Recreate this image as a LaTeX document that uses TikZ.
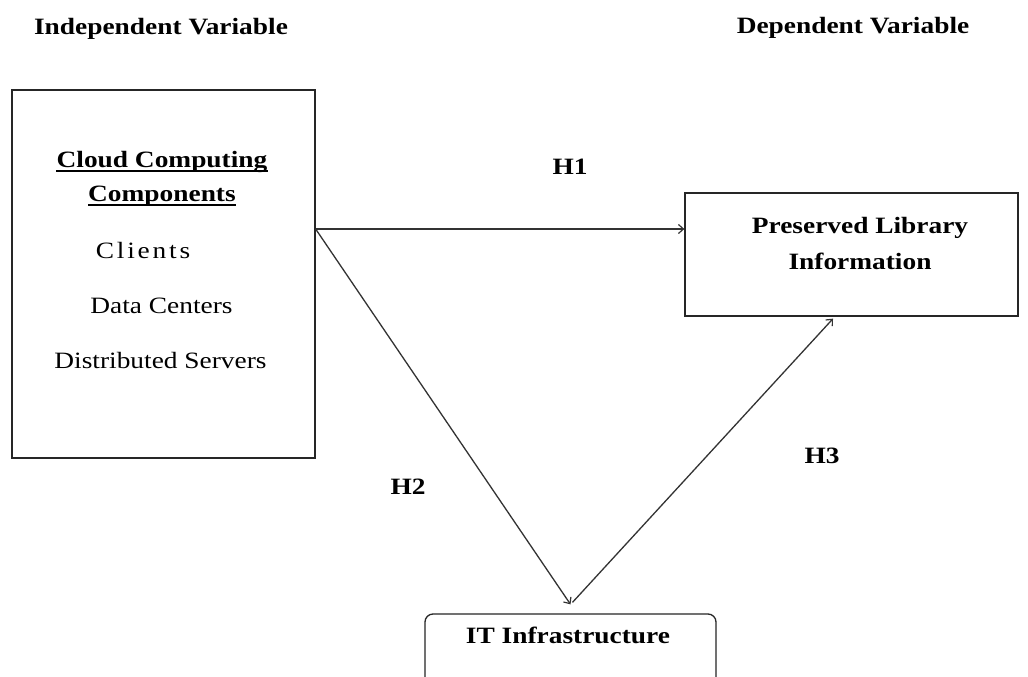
\documentclass[tikz,border=0pt]{standalone}
\usepackage{fontspec}
\setmainfont{Liberation Serif}[FakeStretch=1.17]
\usetikzlibrary{arrows.meta}
\begin{document}
\begin{tikzpicture}[x=1pt,y=-1pt,
  txt/.style={inner sep=0pt, anchor=base, font=\fontsize{23.4}{28}\selectfont},
  btxt/.style={inner sep=0pt, anchor=base, font=\fontsize{23.4}{28}\selectfont\bfseries},
  box/.style={draw=black!85, line width=1.3pt, inner sep=0pt, fill=none},
  uline/.style={draw=black, line width=1.5pt},
  arr/.style={draw=black!80, line width=1.3pt, -{Straight Barb[length=5pt,width=9pt,line width=1.2pt]}}]
\useasboundingbox[fill=white] (0,0) rectangle (1028,677);

% titles
\node[btxt] (indep) at (161,35) {Independent Variable};
\node[btxt] (dep) at (853,34) {Dependent Variable};

% boxes
\node[box, minimum width=303pt, minimum height=368pt] (ccc) at (163.5,274) {};
\node[box, minimum width=333pt, minimum height=123pt] (pli) at (851.5,254.5) {};
\node[box, rounded corners=8pt, minimum width=291pt, minimum height=80pt] (it) at (570.5,654) {};

% box texts
\node[btxt] (cc1) at (162,167) {Cloud Computing};
\node[btxt] (cc2) at (162,201) {Components};
\draw[uline] ([yshift=-4pt]cc1.base west) -- ([yshift=-4pt]cc1.base east);
\draw[uline] ([yshift=-4pt]cc2.base west) -- ([yshift=-4pt]cc2.base east);
\node[txt] (cl) at (143,258) {\addfontfeature{LetterSpace=12}Clients};
\node[txt] (dc) at (161.5,313) {Data Centers};
\node[txt] (ds) at (160.5,368) {Distributed Servers};

\node[btxt] (pl1) at (860,233) {Preserved Library};
\node[btxt] (pl2) at (860,269) {Information};

\node[btxt] (itl) at (568,643) {IT Infrastructure};

% hypothesis labels
\node[btxt] (h1) at (570,174) {H1};
\node[btxt] (h2) at (408,494) {H2};
\node[btxt] (h3) at (822,463) {H3};

% connectors
\draw[arr] ([yshift=45pt]ccc.east) -- ([yshift=25.5pt]pli.west);
\draw[arr] ([yshift=45pt]ccc.east) -- ([yshift=9pt]it.north);
\draw[arr] ([xshift=2pt,yshift=11pt]it.north) -- ([xshift=-18.5pt,yshift=-2pt]pli.south);
\end{tikzpicture}
\end{document}
